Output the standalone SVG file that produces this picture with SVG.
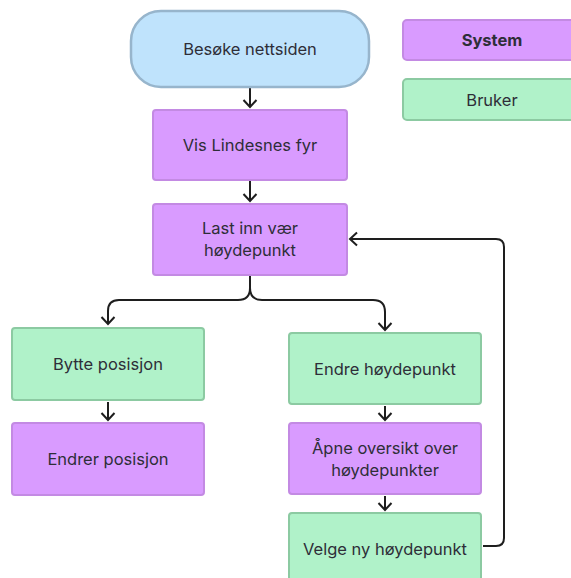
<svg xmlns="http://www.w3.org/2000/svg" width="571" height="578" viewBox="0 0 571 578">
  <style>
    .sys { fill: #d99bff; stroke: #c38ae3; stroke-width: 2; }
    .usr { fill: #b0f2c9; stroke: #8ccaa2; stroke-width: 2; }
    .start { fill: #bfe3fc; stroke: #97b5cc; stroke-width: 2.5; }
    text { font-family: Inter, "Noto Sans", "Liberation Sans", sans-serif; font-size: 16.5px; fill: #2e2e38; text-anchor: middle; dominant-baseline: central; }
    .bold { font-weight: 700; }
    .edge { fill: none; stroke: #1e1e1e; stroke-width: 2; }
  </style>
  <defs>
    <marker id="arrow" viewBox="0 0 14 16" refX="11" refY="8" markerWidth="14" markerHeight="16" markerUnits="userSpaceOnUse" orient="auto">
      <path d="M4,1.5 L11,8 L4,14.5" fill="none" stroke="#1e1e1e" stroke-width="2"/>
    </marker>
  </defs>

  <g id="connectors">
    <path class="edge" d="M250,88 V107" marker-end="url(#arrow)"/>
    <path class="edge" d="M250,181 V201" marker-end="url(#arrow)"/>
    <path class="edge" d="M250,276 V288 Q250,300 238,300 H119 Q108,300 108,311 V324" marker-end="url(#arrow)"/>
    <path class="edge" d="M250,288 Q250,300 262,300 H373 Q385,300 385,312 V330" marker-end="url(#arrow)"/>
    <path class="edge" d="M108,402 V420" marker-end="url(#arrow)"/>
    <path class="edge" d="M385,406 V420" marker-end="url(#arrow)"/>
    <path class="edge" d="M385,496 V510" marker-end="url(#arrow)"/>
    <path class="edge" d="M483,546 H496 Q504,546 504,538 V247 Q504,239 496,239 H350" marker-end="url(#arrow)"/>
  </g>

  <g id="legend-system">
    <rect class="sys" x="403" y="20" width="180" height="40" rx="4"/>
    <text class="bold" x="492" y="40">System</text>
  </g>
  <g id="legend-bruker">
    <rect class="usr" x="403" y="79" width="180" height="41" rx="4"/>
    <text x="492" y="100">Bruker</text>
  </g>

  <g id="besoke">
    <rect class="start" x="131" y="11" width="238" height="76" rx="30"/>
    <text x="250" y="49">Besøke nettsiden</text>
  </g>
  <g id="vis">
    <rect class="sys" x="153" y="110" width="194" height="70" rx="3"/>
    <text x="250" y="145">Vis Lindesnes fyr</text>
  </g>
  <g id="last">
    <rect class="sys" x="153" y="204" width="194" height="71" rx="3"/>
    <text x="250" y="228">Last inn vær</text>
    <text x="250" y="250">høydepunkt</text>
  </g>
  <g id="bytte">
    <rect class="usr" x="12" y="328" width="192" height="72" rx="3"/>
    <text x="108" y="364">Bytte posisjon</text>
  </g>
  <g id="endrer">
    <rect class="sys" x="12" y="423" width="192" height="72" rx="3"/>
    <text x="108" y="459">Endrer posisjon</text>
  </g>
  <g id="endre">
    <rect class="usr" x="289" y="333" width="192" height="71" rx="3"/>
    <text x="385" y="369">Endre høydepunkt</text>
  </g>
  <g id="apne">
    <rect class="sys" x="289" y="423" width="192" height="71" rx="3"/>
    <text x="385" y="448">Åpne oversikt over</text>
    <text x="385" y="470">høydepunkter</text>
  </g>
  <g id="velge">
    <rect class="usr" x="289" y="513" width="192" height="72" rx="3"/>
    <text x="385" y="549">Velge ny høydepunkt</text>
  </g>
</svg>
